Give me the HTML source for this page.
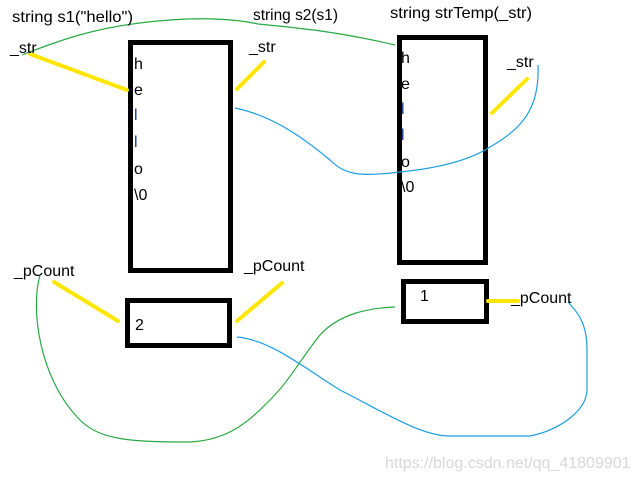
<!DOCTYPE html>
<html><head><style>
body{margin:0;width:635px;height:480px;background:#fff;overflow:hidden;position:relative;font-family:"Liberation Sans",sans-serif;}
svg{position:absolute;left:0;top:0}
</style></head><body>
<svg width="635" height="480" viewBox="0 0 635 480">
<g fill="none" stroke="#000" stroke-width="5">
<rect x="130.5" y="42.5" width="100" height="228"/>
<rect x="127.5" y="300.5" width="102" height="45"/>
<rect x="399.5" y="37.5" width="86" height="225"/>
<rect x="403.5" y="281.5" width="83" height="40"/>
</g>
<g stroke="#ffe600" stroke-width="4" stroke-linecap="round">
<line x1="30" y1="54" x2="127" y2="90"/>
<line x1="237" y1="89" x2="264" y2="62"/>
<line x1="492" y1="113" x2="527" y2="79"/>
<line x1="54" y1="282" x2="118" y2="321"/>
<line x1="237" y1="321" x2="282" y2="283"/>
<line x1="488" y1="301" x2="518" y2="301"/>
</g>
<g fill="none" stroke-width="1.2">
<path d="M22 55 C60 40 100 25 170 20 C210 17 240 20 258 24 C300 28 340 32 395 45" stroke="#2aa845"/>
<path d="M235 108 C270 115 300 135 330 160 C345 175 360 177 400 172 C440 168 470 160 490 147 C520 130 540 110 538 65" stroke="#1a9ee0"/>
<path d="M40 275 C30 310 40 380 80 420 C100 440 130 442 190 442 C230 440 250 420 270 400 C290 380 300 360 320 335 C340 313 370 308 395 307" stroke="#2aa845"/>
<path d="M237 337 C270 340 300 365 340 390 C380 410 420 436 450 436 L530 436 C560 430 587 410 587 390 L587 350 C587 320 575 310 568 302" stroke="#1a9ee0"/>
</g>
<g font-family="Liberation Sans, sans-serif" font-size="16" fill="#000">
<text x="12" y="22" textLength="121" lengthAdjust="spacingAndGlyphs">string s1("hello")</text>
<text x="253" y="20" textLength="85" lengthAdjust="spacingAndGlyphs">string s2(s1)</text>
<text x="390" y="18" textLength="142" lengthAdjust="spacingAndGlyphs">string strTemp(_str)</text>
<text x="10" y="53">_str</text>
<text x="249" y="52">_str</text>
<text x="507" y="67">_str</text>
<text x="14" y="276">_pCount</text>
<text x="244" y="271">_pCount</text>
<text x="511" y="303">_pCount</text>
<text x="135" y="330">2</text>
<text x="420" y="301">1</text>
<text x="134" y="69">h</text>
<text x="134" y="95">e</text>
<text x="134" y="120" fill="#1a3a8a">l</text>
<text x="134" y="147" fill="#1a3a8a">l</text>
<text x="134" y="174">o</text>
<text x="134" y="200">\0</text>
<text x="401" y="63">h</text>
<text x="401" y="89">e</text>
<text x="401" y="114" fill="#1a3a8a">l</text>
<text x="401" y="140" fill="#1a3a8a">l</text>
<text x="401" y="167">o</text>
<text x="401" y="192">\0</text>
</g>
<text x="385" y="468" font-family="Liberation Sans, sans-serif" font-size="16" fill="#d8d8d8">https://blog.csdn.net/qq_41809901</text>
</svg>
</body></html>
